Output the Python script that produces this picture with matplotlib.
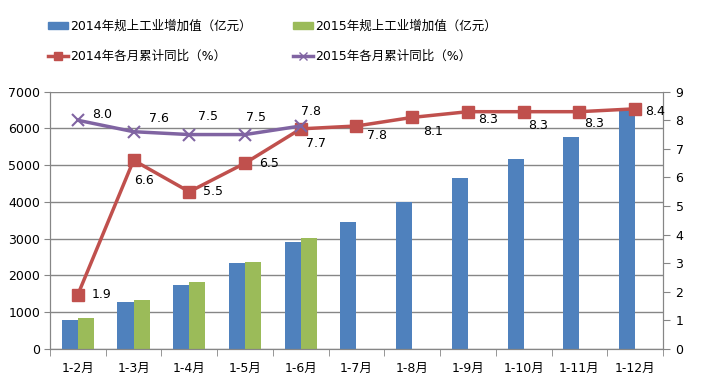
import numpy as np
import matplotlib.pyplot as plt
from matplotlib.lines import Line2D
from matplotlib.patches import Patch

plt.rcParams['font.family'] = ['DejaVu Sans', 'Noto Sans CJK SC']

# datos
meses = ['1-2月', '1-3月', '1-4月', '1-5月', '1-6月', '1-7月',
         '1-8月', '1-9月', '1-10月', '1-11月', '1-12月']
valor_2014 = [790, 1275, 1740, 2335, 2900, 3445, 3990, 4640, 5180, 5780, 6510]
valor_2015 = [845, 1330, 1820, 2360, 3010]
ratio_2014 = [1.9, 6.6, 5.5, 6.5, 7.7, 7.8, 8.1, 8.3, 8.3, 8.3, 8.4]
ratio_2015 = [8.0, 7.6, 7.5, 7.5, 7.8]

# desplazamiento de etiquetas (pixeles)
off_2014 = [(24, 0), (10, -20), (24, 0), (24, 0), (15, -15), (21, -10),
            (21, -14), (20, -8), (14, -14), (15, -12), (20, -3)]
off_2015 = [(24, 6), (25, 13), (19, 18), (11, 17), (10, 14)]

azul = '#4F81BD'
verde = '#9BBB59'
rojo = '#C0504D'
morado = '#8064A2'
gris = '#868686'

fig = plt.figure(figsize=(7.01, 3.86), dpi=100)
pan_1 = fig.add_axes([0.0713, 0.0959, 0.8745, 0.6666])
pan_2 = pan_1.twinx()

x = np.arange(len(meses))
ancho = 0.29
pan_1.bar(x - ancho/2, valor_2014, ancho, color=azul, zorder=2)
pan_1.bar(x[:len(valor_2015)] + ancho/2, valor_2015, ancho, color=verde, zorder=2)

pan_1.set_xlim(-0.5, len(meses) - 0.5)
pan_1.set_ylim(0, 7000)
pan_1.set_yticks(np.arange(0, 7001, 1000))
pan_1.yaxis.grid(True, color=gris, linewidth=1)
pan_1.set_axisbelow(True)
pan_1.set_xticks(x)
pan_1.set_xticklabels(meses, fontsize=9)
pan_1.set_xticks(np.arange(-0.5, len(meses)), minor=True)
pan_1.tick_params(axis='x', which='major', length=0, pad=9)
pan_1.tick_params(axis='x', which='minor', length=5, color=gris)
pan_1.tick_params(axis='y', length=4, color=gris, labelsize=9, pad=3)

pan_2.plot(x, ratio_2014, color=rojo, linewidth=2.5, marker='s',
           markersize=9, zorder=3)
pan_2.plot(x[:len(ratio_2015)], ratio_2015, color=morado, linewidth=2.5,
           marker='x', markersize=8, markeredgewidth=1.5, zorder=4)
pan_2.set_ylim(0, 9)
pan_2.set_yticks(np.arange(0, 10, 1))
pan_2.tick_params(axis='y', length=5, color=gris, labelsize=9, pad=4)

for xi, v, o in zip(x, ratio_2014, off_2014):
    pan_2.annotate(f'{v:.1f}', (xi, v), xytext=o, textcoords='offset pixels',
                   ha='center', va='center', fontsize=9)
for xi, v, o in zip(x, ratio_2015, off_2015):
    pan_2.annotate(f'{v:.1f}', (xi, v), xytext=o, textcoords='offset pixels',
                   ha='center', va='center', fontsize=9)

for ax in (pan_1, pan_2):
    ax.spines['top'].set_visible(False)
    for s in ('left', 'right', 'bottom'):
        ax.spines[s].set_color(gris)

# leyenda
manejadores = [
    Patch(color=azul, label='2014年规上工业增加值（亿元）'),
    Line2D([], [], color=rojo, linewidth=2.5, marker='s', markersize=6,
           label='2014年各月累计同比（%）'),
    Patch(color=verde, label='2015年规上工业增加值（亿元）'),
    Line2D([], [], color=morado, linewidth=2.5, marker='x', markersize=6,
           label='2015年各月累计同比（%）'),
]
fig.legend(handles=manejadores, loc='upper left', bbox_to_anchor=(0.052, 0.978),
           ncol=2, frameon=False, fontsize=9, handlelength=1.6,
           handleheight=0.5, handletextpad=0.2, labelspacing=1.4,
           columnspacing=3.3)

fig.savefig('out.png', dpi=100)
